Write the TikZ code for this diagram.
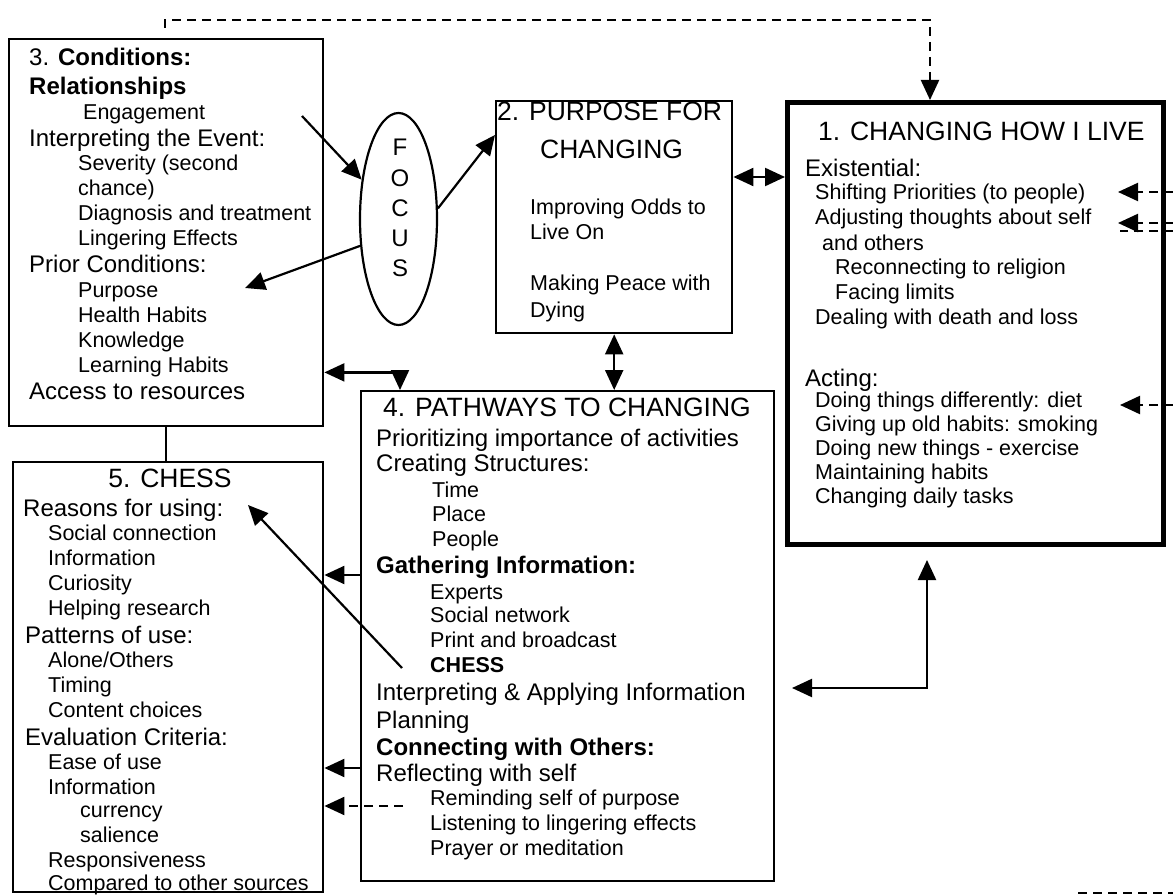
\documentclass[tikz,border=0pt]{standalone}
\usepackage{fontspec}
\setmainfont{Liberation Sans}
\usetikzlibrary{arrows.meta,shapes.geometric,calc}
\begin{document}
\begin{tikzpicture}[x=1pt,y=-1pt,
  box/.style={draw, line width=2.4pt, inner sep=0pt, anchor=north west},
  hd/.style={anchor=mid west, inner sep=0pt, yshift=-6pt, font=\fontsize{24}{26}\selectfont},
  it/.style={anchor=mid west, inner sep=0pt, yshift=-5pt, font=\fontsize{21.5}{24}\selectfont},
  ttl/.style={anchor=mid west, inner sep=0pt, yshift=-8pt, font=\fontsize{26.5}{28}\selectfont},
  tip/.style={-{Triangle[length=20pt,width=18pt]}},
  arr/.style={line width=2.2pt, tip},
  darr/.style={line width=2.2pt, {Triangle[length=20pt,width=18pt]}-{Triangle[length=20pt,width=18pt]}},
  dsh/.style={line width=2.2pt, dash pattern=on 9pt off 6pt}]
\useasboundingbox (0,0) rectangle (1173,896);
\fill[white] (0,0) rectangle (1173,896);

% boxes
\node[box, minimum width=314pt, minimum height=387pt] (b3) at (8,38) {};
\node[box, minimum width=310pt, minimum height=430pt] (b5) at (12,461) {};
\node[box, minimum width=236pt, minimum height=232pt] (b2) at (495,100) {};
\node[box, line width=5pt, minimum width=376pt, minimum height=442pt] (b1) at (785,100) {};
\node[box, minimum width=413pt, minimum height=490pt] (b4) at (360,390) {};
\node[draw, ellipse, line width=2.2pt, inner sep=0pt, minimum width=77pt, minimum height=212pt] (focus) at (398.5,219) {};

% FOCUS letters
\foreach \y/\t [count=\i] in {147/F,178/O,208/C,238/U,268/S}
  {\node[hd, anchor=mid] (fl\i) at (400,\y) {\t};}

% titles
\node[ttl] (t2a) at (497,110) {2. PURPOSE FOR};
\node[ttl] (t2b) at (540,148) {CHANGING};
\node[ttl] (t1) at (818,130) {1. CHANGING HOW I LIVE};
\node[ttl] (t4) at (383,406) {4. PATHWAYS TO CHANGING};
\node[ttl, anchor=mid] (t5) at (170,477) {5. CHESS};

% headings (24)
\foreach \x/\y/\t [count=\i] in {
  29/57/{3. \textbf{Conditions:}},
  29/86/{\textbf{Relationships}},
  29/138/{Interpreting the Event:},
  29/264/{Prior Conditions:},
  29/391/{Access to resources},
  805/168/{Existential:},
  805/378/{Acting:},
  376/438/{Prioritizing importance of activities},
  376/463/{Creating Structures:},
  376/565/{\textbf{Gathering Information:}},
  376/692/{Interpreting \& Applying Information},
  376/720/{Planning},
  376/747/{\textbf{Connecting with Others:}},
  376/773/{Reflecting with self},
  23/508/{Reasons for using:},
  25/635/{Patterns of use:},
  25/737/{Evaluation Criteria:}}
  {\node[hd] (h\i) at (\x,\y) {\t};}

% items (21.5)
\foreach \x/\y/\t [count=\i] in {
  83/112/{Engagement},
  78/163/{Severity (second},
  78/188/{chance)},
  78/213/{Diagnosis and treatment},
  78/238/{Lingering Effects},
  78/290/{Purpose},
  78/315/{Health Habits},
  78/340/{Knowledge},
  78/365/{Learning Habits},
  530/207/{Improving Odds to},
  530/232/{Live On},
  530/283/{Making Peace with},
  530/310/{Dying},
  815/192/{Shifting Priorities (to people)},
  815/217/{Adjusting thoughts about self},
  822/243/{and others},
  835/267/{Reconnecting to religion},
  835/292/{Facing limits},
  815/317/{Dealing with death and loss},
  815/400/{Doing things differently: diet},
  815/424/{Giving up old habits: smoking},
  815/448/{Doing new things - exercise},
  815/472/{Maintaining habits},
  815/496/{Changing daily tasks},
  432/490/{Time},
  432/514/{Place},
  432/539/{People},
  430/592/{Experts},
  430/615/{Social network},
  430/640/{Print and broadcast},
  430/665/{\textbf{CHESS}},
  430/798/{Reminding self of purpose},
  430/823/{Listening to lingering effects},
  430/848/{Prayer or meditation},
  48/533/{Social connection},
  48/558/{Information},
  48/583/{Curiosity},
  48/608/{Helping research},
  48/660/{Alone/Others},
  48/685/{Timing},
  48/710/{Content choices},
  48/762/{Ease of use},
  48/787/{Information},
  80/810/{currency},
  80/835/{salience},
  48/860/{Responsiveness},
  48/883/{Compared to other sources}}
  {\node[it] (i\i) at (\x,\y) {\t};}

% connectors
\coordinate (eng) at (302,116);
\draw[arr] (eng) -- (focus);
\draw[arr] (focus.15) -- ([yshift=-35pt]b2.north west);
\coordinate (pur) at (245,288);
\draw[arr] (focus.215) -- (pur);
\draw[darr] ([yshift=-77pt]b2.north east) -- ([yshift=-77pt]b1.north west);
\draw[darr] (b2.south) -- (b2.south |- b4.north);
\coordinate (c34) at ([yshift=55pt]b3.south east);
\coordinate (c43) at ([xshift=40pt]b4.north west);
\draw[darr] (c34) -| (c43);
\draw[line width=2.2pt] (b3.south) -- (b3.south |- b5.north);

\coordinate (g1) at ([yshift=-185pt]b4.north west);
\draw[arr] (g1) -- (g1 -| b5.east);
\coordinate (g2) at ([yshift=-378pt]b4.north west);
\draw[arr] (g2) -- (g2 -| b5.east);
\coordinate (g3) at (403,806);
\draw[dsh, tip] (g3) -- (g3 -| b5.east);

\coordinate (ch1) at (402,668);
\coordinate (ch2) at (248,505);
\draw[arr] (ch1) -- (ch2);

\coordinate (r1) at (927,688);
\coordinate (r1a) at (792,688);
\coordinate (r1b) at (927,560);
\draw[darr] (r1a) -- (r1) -- (r1b);

\coordinate (tl) at (165,28);
\coordinate (tc) at (930,20);
\draw[dsh, tip] (tl) |- (tc) -- (tc |- b1.north);

\coordinate (e1s) at (1173,192);
\coordinate (e1t) at (1118,192);
\draw[dsh, tip] (e1s) -- (e1t);
\coordinate (e2s) at (1173,223);
\coordinate (e2t) at (1118,223);
\draw[dsh, tip] (e2s) -- (e2t);
\coordinate (e2u) at (1173,231);
\coordinate (e2v) at (1120,231);
\draw[dsh] (e2u) -- (e2v);
\coordinate (e3s) at (1173,405);
\coordinate (e3t) at (1120,405);
\draw[dsh, tip] (e3s) -- (e3t);

\coordinate (brs) at (1078,893);
\coordinate (bre) at (1173,893);
\draw[dsh] (brs) -- (bre);
\end{tikzpicture}
\end{document}
